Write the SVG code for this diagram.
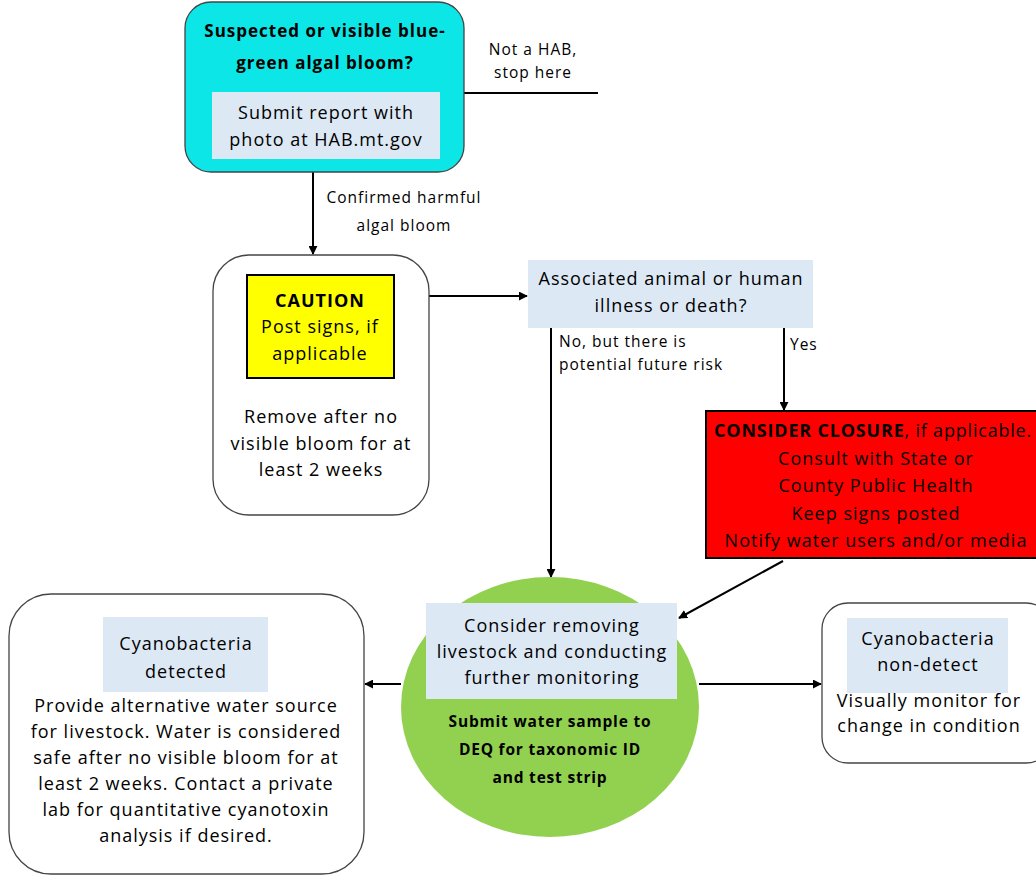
<svg xmlns="http://www.w3.org/2000/svg" width="1036" height="875" viewBox="0 0 1036 875">
<style>
.t{font-family:"Open Sans","Liberation Sans",sans-serif;fill:#000;text-anchor:middle;letter-spacing:1px}
.n{font-size:18px}
.s{font-size:15.5px}
.b{font-weight:bold}
.hb{font-size:17px;font-weight:bold}
.gb{font-size:15.5px;font-weight:bold;letter-spacing:0.8px}
.box{fill:#fff;stroke:#444;stroke-width:1.3}
.lb{fill:#dde8f5}
.ln{stroke:#000;stroke-width:2;fill:none}
</style>
<defs>
<marker id="ah" viewBox="0 0 10 10" refX="9" refY="5" markerWidth="4.5" markerHeight="4.5" orient="auto" markerUnits="strokeWidth">
<path d="M0,0L10,5L0,10z" fill="#000"/>
</marker>
</defs>
<rect width="1036" height="875" fill="#fff"/>
<g id="connectors">
<line class="ln" x1="464" y1="93" x2="598" y2="93"/>
<line class="ln" x1="313" y1="172" x2="313" y2="254" marker-end="url(#ah)"/>
<line class="ln" x1="429" y1="296" x2="527" y2="296" marker-end="url(#ah)"/>
<line class="ln" x1="551" y1="328" x2="551" y2="577" marker-end="url(#ah)"/>
<line class="ln" x1="784" y1="328" x2="784" y2="410" marker-end="url(#ah)"/>
<line class="ln" x1="783" y1="561" x2="679" y2="618" marker-end="url(#ah)"/>
<line class="ln" x1="401" y1="684" x2="365" y2="684" marker-end="url(#ah)"/>
<line class="ln" x1="699" y1="684" x2="821" y2="684" marker-end="url(#ah)"/>
<text class="t s" x="533" y="55">Not a HAB,</text>
<text class="t s" x="533" y="78">stop here</text>
<text class="t s" x="404" y="203">Confirmed harmful</text>
<text class="t s" x="404" y="231">algal bloom</text>
<text class="t s" x="559" y="347" style="text-anchor:start">No, but there is</text>
<text class="t s" x="559" y="370" style="text-anchor:start">potential future risk</text>
<text class="t s" x="790" y="350" style="text-anchor:start">Yes</text>
</g>
<g id="start">
<rect x="185" y="2" width="279" height="170" rx="26" fill="#0ce6e6" stroke="#444" stroke-width="1.3"/>
<rect class="lb" x="212" y="92" width="228" height="67"/>
<text class="t hb" x="325" y="37">Suspected or visible blue-</text>
<text class="t hb" x="325" y="69">green algal bloom?</text>
<text class="t n" x="326" y="119">Submit report with</text>
<text class="t n" x="326" y="146">photo at HAB.mt.gov</text>
</g>
<g id="caution">
<rect class="box" x="213" y="255" width="216" height="260" rx="36"/>
<rect x="247" y="275" width="147" height="103" fill="#ffff00" stroke="#000" stroke-width="2"/>
<text class="t n b" x="320" y="307">CAUTION</text>
<text class="t n" x="320" y="333">Post signs, if</text>
<text class="t n" x="320" y="360">applicable</text>
<text class="t n" x="321" y="423">Remove after no</text>
<text class="t n" x="321" y="450">visible bloom for at</text>
<text class="t n" x="321" y="476">least 2 weeks</text>
</g>
<g id="illness">
<rect class="lb" x="528" y="260" width="285" height="68"/>
<text class="t n" x="671" y="285">Associated animal or human</text>
<text class="t n" x="671" y="312">illness or death?</text>
</g>
<g id="closure">
<rect x="706" y="411" width="340" height="147" fill="#ff0000" stroke="#000" stroke-width="2"/>
<text class="t n" x="714" y="437" style="text-anchor:start;letter-spacing:0.8px"><tspan class="b">CONSIDER CLOSURE</tspan>, if applicable.</text>
<text class="t n" x="876" y="465">Consult with State or</text>
<text class="t n" x="876" y="492">County Public Health</text>
<text class="t n" x="876" y="520">Keep signs posted</text>
<text class="t n" x="876" y="547">Notify water users and/or media</text>
</g>
<g id="monitor">
<ellipse cx="550" cy="707" rx="149" ry="130" fill="#92d050"/>
<rect class="lb" x="426" y="603" width="251" height="96"/>
<text class="t n" x="552" y="632">Consider removing</text>
<text class="t n" x="552" y="658">livestock and conducting</text>
<text class="t n" x="552" y="684">further monitoring</text>
<text class="t gb" x="550" y="727">Submit water sample to</text>
<text class="t gb" x="550" y="755">DEQ for taxonomic ID</text>
<text class="t gb" x="550" y="783">and test strip</text>
</g>
<g id="detected">
<rect class="box" x="9" y="594" width="355" height="280" rx="42"/>
<rect class="lb" x="103" y="617" width="165" height="75"/>
<text class="t n" x="186" y="650">Cyanobacteria</text>
<text class="t n" x="186" y="678">detected</text>
<text class="t n" x="186" y="712">Provide alternative water source</text>
<text class="t n" x="186" y="738">for livestock. Water is considered</text>
<text class="t n" x="186" y="764">safe after no visible bloom for at</text>
<text class="t n" x="186" y="790">least 2 weeks. Contact a private</text>
<text class="t n" x="186" y="816">lab for quantitative cyanotoxin</text>
<text class="t n" x="186" y="842">analysis if desired.</text>
</g>
<g id="nondetect">
<rect class="box" x="822" y="603" width="230" height="160" rx="26"/>
<rect class="lb" x="847" y="618" width="161" height="75"/>
<text class="t n" x="928" y="645">Cyanobacteria</text>
<text class="t n" x="928" y="671">non-detect</text>
<text class="t n" x="929" y="707">Visually monitor for</text>
<text class="t n" x="929" y="732">change in condition</text>
</g>
</svg>
